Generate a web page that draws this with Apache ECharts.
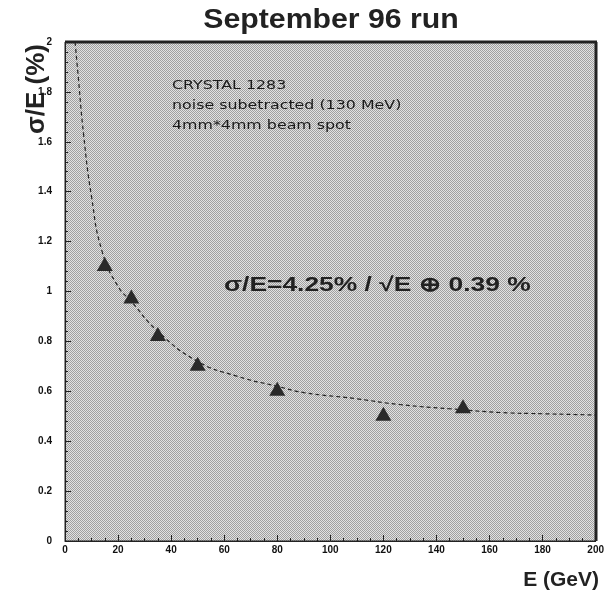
<!DOCTYPE html>
<html><head><meta charset="utf-8">
<script src="https://cdn.jsdelivr.net/npm/echarts@6/dist/echarts.min.js"></script>
<style>html,body{margin:0;padding:0;background:#fff}#c{width:607px;height:598px}</style>
</head><body><div id="c"></div>
<script>
const energies = [15, 25, 35, 50, 80, 120, 150];
const resolution = [1.11, 0.98, 0.83, 0.71, 0.61, 0.51, 0.54];
const fitE = [3.8, 5, 7, 10, 14, 20, 25, 35, 50, 65, 80, 90, 110, 126, 145, 164, 180, 200];
const fitY = [2.0, 1.86, 1.63, 1.38, 1.16, 1.02, 0.96, 0.84, 0.72, 0.66, 0.62, 0.595, 0.57, 0.547, 0.53, 0.515, 0.51, 0.505];
const xTicks = [0, 20, 40, 60, 80, 100, 120, 140, 160, 180, 200];
const yTicks = [0, 0.2, 0.4, 0.6, 0.8, 1, 1.2, 1.4, 1.6, 1.8, 2];
const annotations = ['CRYSTAL 1283', 'noise subetracted (130 MeV)', '4mm*4mm beam spot'];
const formulaText = 'σ/E=4.25% / √E ⊕ 0.39 %';

// stipple pattern for plot background
const pc = document.createElement('canvas');
pc.width = 2; pc.height = 2;
const pctx = pc.getContext('2d');
pctx.fillStyle = '#e2e2e2'; pctx.fillRect(0, 0, 2, 2);
pctx.fillStyle = '#a0a0a0';
pctx.fillRect(0, 0, 1, 1); pctx.fillRect(1, 1, 1, 1);

const chart = echarts.init(document.getElementById('c'));
const font = 'Liberation Sans, Arial, sans-serif';
const axisLab = {fontSize: 10, fontWeight: 'bold', color: '#111', fontFamily: font};
chart.setOption({
  animation: false,
  backgroundColor: '#fff',
  grid: {left: 65, right: 11, top: 42, bottom: 57, show: true,
    backgroundColor: {image: pc, repeat: 'repeat'}, borderColor: '#222', borderWidth: 1},
  xAxis: {type: 'value', min: 0, max: 200, interval: 20,
    axisLine: {show: true, lineStyle: {color: '#222', width: 1}},
    axisTick: {show: true, inside: true, length: 6, lineStyle: {color: '#222'}},
    minorTick: {show: true, splitNumber: 4, length: 3, lineStyle: {color: '#222'}},
    axisLabel: Object.assign({margin: 4, formatter: v => xTicks.includes(v) ? String(v) : ''}, axisLab),
    splitLine: {show: false}},
  yAxis: {type: 'value', min: 0, max: 2, interval: 0.2,
    axisLine: {show: true, lineStyle: {color: '#222', width: 1}},
    axisTick: {show: true, inside: true, length: 6, lineStyle: {color: '#222'}},
    minorTick: {show: true, splitNumber: 5, length: 3, lineStyle: {color: '#222'}},
    axisLabel: Object.assign({margin: 13, formatter: v => {
      const t = yTicks.find(u => Math.abs(u - v) < 1e-6); return t === undefined ? '' : String(t);}}, axisLab),
    splitLine: {show: false}},
  graphic: [
    {type: 'line', shape: {x1: 65, y1: 42, x2: 597, y2: 42}, style: {stroke: '#222', lineWidth: 3}},
    {type: 'line', shape: {x1: 596, y1: 42, x2: 596, y2: 541}, style: {stroke: '#222', lineWidth: 3}},
    {type: 'text', x: 331, y: 21, scaleX: 1.12, style: {text: 'September 96 run', fontSize: 27, fontWeight: 'bold',
      fill: '#222', fontFamily: font, align: 'center', verticalAlign: 'middle'}},
    {type: 'text', x: 37, y: 89, rotation: Math.PI / 2, style: {text: 'σ/E (%)', fontSize: 26, fontWeight: 'bold',
      fill: '#222', fontFamily: font, align: 'center', verticalAlign: 'middle'}},
    {type: 'text', x: 599, y: 580, style: {text: 'E (GeV)', fontSize: 21, fontWeight: 'bold',
      fill: '#222', fontFamily: font, align: 'right', verticalAlign: 'middle'}},
    {type: 'text', x: 172, y: 76, scaleX: 1.32, style: {text: annotations.join('\n'), fontSize: 12, lineHeight: 20,
      fill: '#1a1a1a', fontFamily: 'DejaVu Sans, sans-serif'}},
    {type: 'text', x: 224, y: 285, scaleX: 1.32, style: {text: formulaText, fontSize: 20, fontWeight: 'bold',
      fill: '#222', fontFamily: font, verticalAlign: 'middle'}}
  ],
  series: [
    {type: 'line', data: fitE.map((e, i) => [e, fitY[i]]), smooth: true, showSymbol: false, symbol: 'none',
      lineStyle: {color: '#222', width: 1.2, type: [4, 3]}, z: 2},
    {type: 'scatter', data: energies.map((e, i) => [e, resolution[i]]), symbol: 'triangle',
      symbolSize: [16, 14], itemStyle: {color: '#2a2a2a', opacity: 1}, z: 3}
  ]
});
</script></body></html>
